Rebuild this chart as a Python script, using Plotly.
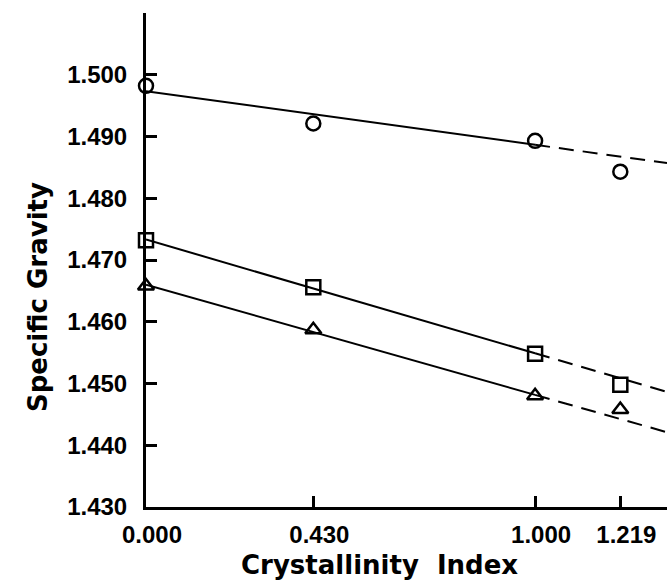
import numpy as np
import plotly.graph_objects as go

# Crystallinity index of each sample and measured specific gravity
crystallinity = [0.000, 0.430, 1.000, 1.219]
sg_circle = [1.4982, 1.4921, 1.4893, 1.4843]
sg_square = [1.4732, 1.4656, 1.4548, 1.4498]
sg_triangle = [1.4658, 1.4587, 1.4480, 1.4458]

x_ticks = [0.000, 0.430, 1.000, 1.219]
x_tick_labels = ["0.000", "0.430", "1.000", "1.219"]
y_ticks = [1.430, 1.440, 1.450, 1.460, 1.470, 1.480, 1.490, 1.500]
y_tick_labels = ["1.430", "1.440", "1.450", "1.460", "1.470", "1.480", "1.490", "1.500"]

X_RANGE = [0.0, 1.339]
Y_RANGE = [1.430, 1.510]

series = [
    (sg_circle, "circle-open"),
    (sg_square, "square-open"),
    (sg_triangle, "triangle-up-open"),
]

fig = go.Figure()

for values, symbol in series:
    xs = np.array(crystallinity)
    ys = np.array(values)
    # least-squares line through the samples up to index 1.000
    fit_mask = xs <= 1.0
    slope, intercept = np.polyfit(xs[fit_mask], ys[fit_mask], 1)
    solid_x = [0.0, 1.0]
    dash_x = [1.0, X_RANGE[1]]
    fig.add_trace(go.Scatter(
        x=solid_x, y=[intercept + slope * v for v in solid_x],
        mode="lines", line=dict(color="black", width=2),
        hoverinfo="skip", showlegend=False,
    ))
    fig.add_trace(go.Scatter(
        x=dash_x, y=[intercept + slope * v for v in dash_x],
        mode="lines", line=dict(color="black", width=2, dash="15px,9px"),
        hoverinfo="skip", showlegend=False,
    ))
    fig.add_trace(go.Scatter(
        x=crystallinity, y=values, mode="markers",
        marker=dict(symbol=symbol, size=14, color="black",
                    line=dict(color="black", width=2.5)),
        cliponaxis=False, showlegend=False,
    ))

tick_font = dict(family="Liberation Sans, Arial, sans-serif", size=24,
                 color="black", weight="bold")
title_font = dict(family="DejaVu Sans, sans-serif", size=26,
                  color="black", weight="bold")

fig.update_layout(
    width=667, height=583,
    margin=dict(l=146, r=0, t=13, b=76),
    paper_bgcolor="white", plot_bgcolor="white",
    xaxis=dict(
        range=X_RANGE, tickvals=x_ticks, ticktext=x_tick_labels,
        ticks="inside", ticklen=11, tickwidth=2.5, tickcolor="black",
        showline=True, linecolor="black", linewidth=3,
        showgrid=False, zeroline=False,
        tickfont=tick_font, ticklabelstandoff=4, ticklabelshift=6,
    ),
    yaxis=dict(
        range=Y_RANGE, tickvals=y_ticks, ticktext=y_tick_labels,
        ticks="inside", ticklen=11, tickwidth=2.5, tickcolor="black",
        showline=True, linecolor="black", linewidth=3,
        showgrid=False, zeroline=False,
        tickfont=tick_font, ticklabelstandoff=11,
    ),
    annotations=[
        # axis titles
        dict(text="Crystallinity  Index", font=title_font, showarrow=False,
             xref="paper", yref="paper", x=0.449, y=0,
             xanchor="center", yanchor="top", yshift=-41),
        dict(text="Specific Gravity", font=title_font, showarrow=False,
             textangle=-90, xref="paper", yref="paper", x=0, y=0.425,
             xanchor="center", yanchor="middle", xshift=-108),
    ],
)

fig.write_html("out.html")
